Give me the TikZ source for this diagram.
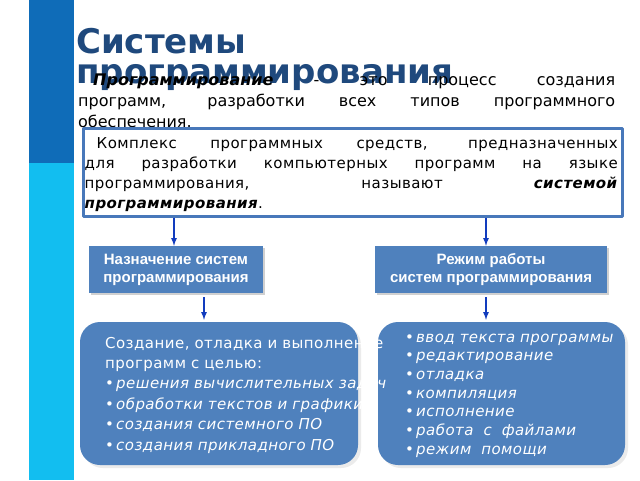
\documentclass[tikz,border=0pt]{standalone}
\usepackage{fontspec}
\setmainfont{DejaVu Sans}[ItalicFont={DejaVu Sans Oblique},BoldItalicFont={DejaVu Sans Bold Oblique}]
\newfontfamily\labelfont{Liberation Sans}
\usetikzlibrary{positioning,shadows}

\definecolor{barDark}{RGB}{15,108,184}
\definecolor{barLight}{RGB}{18,190,240}
\definecolor{titleBlue}{RGB}{31,73,125}
\definecolor{boxBlue}{RGB}{79,129,189}
\definecolor{frameBlue}{RGB}{72,120,186}
\definecolor{arrowBlue}{RGB}{18,60,190}

\tikzset{
  defbox/.style={draw=frameBlue, line width=3pt, fill=white, inner sep=0pt},
  headbox/.style={fill=boxBlue, text=white, inner sep=0pt, align=center,
    font=\labelfont\bfseries\fontsize{15}{18}\selectfont,
    drop shadow={shadow xshift=2pt, shadow yshift=-2pt, fill=black!30, opacity=0.6}},
  listbox/.style={fill=boxBlue, rounded corners=20pt, inner sep=0pt,
    drop shadow={shadow xshift=3pt, shadow yshift=-3pt, fill=black!8, opacity=1}},
  listtext/.style={anchor=base west, inner sep=0pt, align=left, text=white},
  arr/.style={->, >=latex, draw=arrowBlue, line width=1.6pt},
}
\newcommand{\bul}[1]{\makebox[11pt][l]{•}\textit{#1}}

\begin{document}
\begin{tikzpicture}[x=1pt, y=-1pt, line join=round]
  \useasboundingbox (0,0) rectangle (640,480);
  \fill[white] (0,0) rectangle (640,480);

  % Bars
  \fill[barDark] (29,0) rectangle (74,163);
  \fill[barLight] (29,163) rectangle (74,480);

  % Title
  \node[anchor=base west, inner sep=0pt, text width=560pt, align=left, text=titleBlue,
    font=\bfseries\fontsize{34}{30}\selectfont] (title) at (76,53)
    {Системы\\программирования};

  % Definition
  \node[anchor=base west, inner sep=0pt, text width=537pt, align=justify,
    font=\fontsize{16}{21}\selectfont] (intro) at (78,85)
    {\hspace*{15pt}\textbf{\textit{Программирование}} - это процесс создания\linebreak
     программ, разработки всех типов программного\linebreak
     обеспечения.};

  \node[defbox, anchor=north west, minimum width=539pt, minimum height=88pt]
    (def) at (81.5,126.5) {};
  \node[anchor=base west, inner sep=0pt, text width=533pt, align=justify,
    font=\fontsize{15}{20.3}\selectfont\addfontfeature{LetterSpace=3}] (deftext) at (84.5,148)
    {\hspace*{12pt}Комплекс программных средств, предназначенных\linebreak
     для разработки компьютерных программ на языке\linebreak
     программирования, называют \textbf{\textit{системой}}\linebreak
     \textbf{\textit{программирования}}.};

  % Coordinates
  \coordinate (la) at (174,0);
  \coordinate (lb) at (204,0);
  \coordinate (ra) at (486,0);

  % Header boxes
  \node[headbox, minimum width=174pt, minimum height=47pt] (purpose) at (176,269.5)
    {Назначение систем\\программирования};
  \node[headbox, minimum width=232pt, minimum height=47pt] (mode) at (491,269.5)
    {Режим работы\\систем программирования};

  % List boxes
  \node[listbox, minimum width=278pt, minimum height=143pt] (goals) at (219,393.5) {};
  \node[listbox, minimum width=247pt, minimum height=143pt] (steps) at (501.5,393.5) {};

  % Arrows
  \draw[arr] (def.south -| la) -- (purpose.north -| la);
  \draw[arr] (def.south -| ra) -- (mode.north -| ra);
  \draw[arr] ([yshift=-4pt]purpose.south -| lb) -- ([yshift=2pt]goals.north -| lb);
  \draw[arr] ([yshift=-4pt]mode.south -| ra) -- ([yshift=2pt]steps.north -| ra);

  % Lists
  \node[listtext, text width=320pt, font=\fontsize{15}{20.4}\selectfont\addfontfeature{LetterSpace=3}]
    (goaltext) at (105,348)
    {Создание, отладка и выполнение\\
     программ с целью:\\
     \bul{решения вычислительных задач}\\
     \bul{обработки текстов и графики}\\
     \bul{создания системного ПО}\\
     \bul{создания прикладного ПО}};
  \node[listtext, text width=225pt, font=\fontsize{15}{18.7}\selectfont\addfontfeature{LetterSpace=3}]
    (steptext) at (405,342)
    {\bul{ввод текста программы}\\
     \bul{редактирование}\\
     \bul{отладка}\\
     \bul{компиляция}\\
     \bul{исполнение}\\
     \bul{работа~ с~ файлами}\\
     \bul{режим~ помощи}};
\end{tikzpicture}
\end{document}
